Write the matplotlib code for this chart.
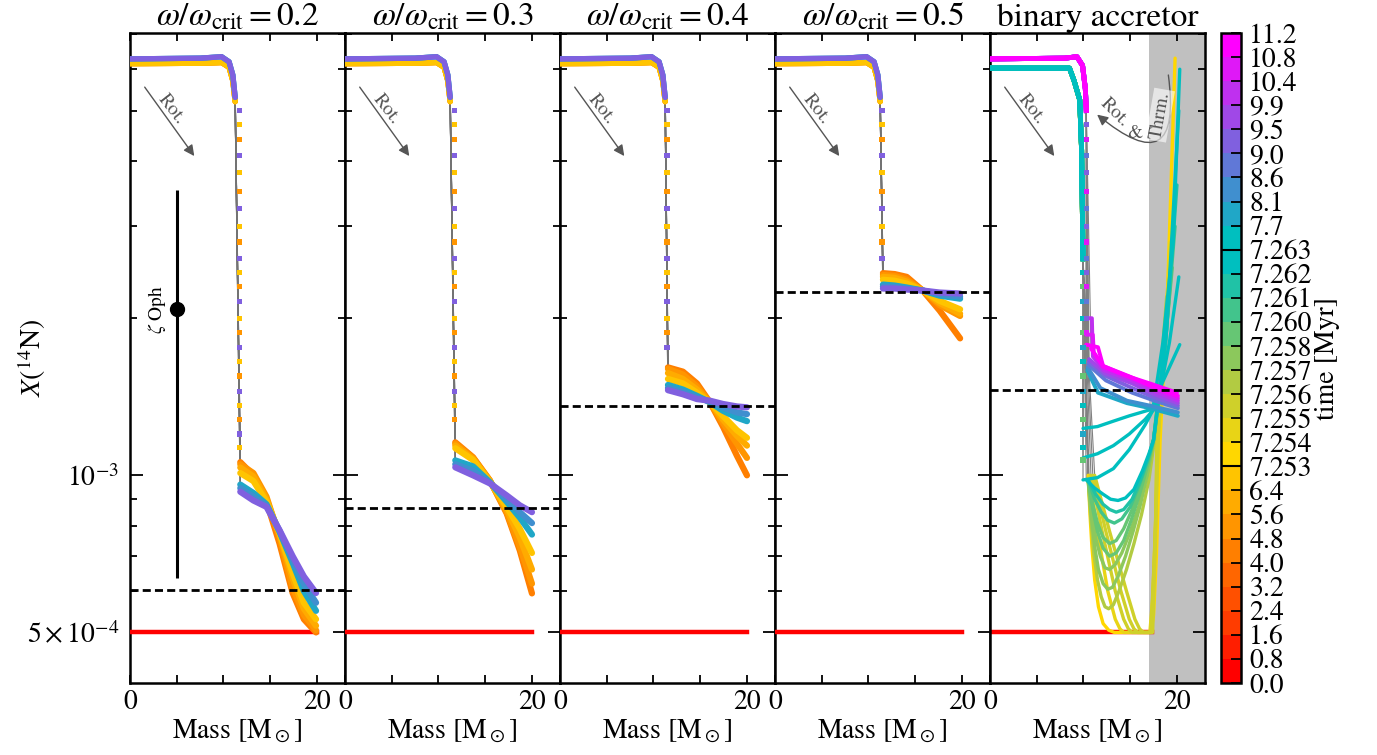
import numpy as np
import matplotlib.pyplot as plt
from matplotlib.colors import ListedColormap, BoundaryNorm
from matplotlib.cm import ScalarMappable
from matplotlib.ticker import NullFormatter

plt.rcParams['font.family'] = 'STIXGeneral'
plt.rcParams['mathtext.fontset'] = 'stix'
plt.rcParams['font.size'] = 20

# ---- colour bar: time bins [Myr]
t_bounds = [0.0, 0.8, 1.6, 2.4, 3.2, 4.0, 4.8, 5.6, 6.4, 7.253, 7.254, 7.255, 7.256, 7.257,
            7.258, 7.260, 7.261, 7.262, 7.263, 7.7, 8.1, 8.6, 9.0, 9.5, 9.9, 10.4, 10.8, 11.2]
t_labels = ['0.0', '0.8', '1.6', '2.4', '3.2', '4.0', '4.8', '5.6', '6.4', '7.253', '7.254',
            '7.255', '7.256', '7.257', '7.258', '7.260', '7.261', '7.262', '7.263', '7.7',
            '8.1', '8.6', '9.0', '9.5', '9.9', '10.4', '10.8', '11.2']
bin_colors = ['#ff0000', '#ff1e00', '#ff3c00', '#ff5000', '#ff6600', '#ff7f00', '#ff9500',
              '#ffab00', '#ffc400',
              '#ffd700', '#e8d416', '#cfd02a', '#b2cb42', '#8cc85c', '#66c674', '#42c48c',
              '#20c2a6', '#00bfbf',
              '#00bfbf', '#20a7c7', '#408fcf', '#6078d7', '#8060df', '#a048e7', '#bf30ef',
              '#df18f7', '#ff00ff']

# ---- single rotating stars
omega_vals = ['0.2', '0.3', '0.4', '0.5']
prof_times = [4.0, 4.8, 5.6, 6.4, 7.7, 8.3, 9.0]
plat_m = [0.0, 7.5, 9.8, 10.6, 11.0, 11.25]
plat_X_early = [6.15e-3, 6.16e-3, 6.18e-3, 6.05e-3, 5.7e-3, 5.2e-3]
plat_X_late = [6.28e-3, 6.3e-3, 6.34e-3, 6.2e-3, 5.85e-3, 5.3e-3]

env_m = [
    [11.8, 13.2, 14.6, 16.0, 17.4, 18.6, 19.9],
    [11.8, 13.7, 15.5, 17.3, 18.7, 20.0],
    [11.55, 13.15, 14.65, 16.04, 17.43, 18.93, 20.0],
    [11.55, 12.8, 14.1, 15.8, 17.6, 19.8],
]
env_X = [
    [[1.06e-3, 1.00e-3, 8.9e-4, 7.4e-4, 5.95e-4, 5.3e-4, 5.0e-4],
     [1.05e-3, 1.01e-3, 9.1e-4, 7.6e-4, 6.1e-4, 5.4e-4, 5.05e-4],
     [1.035e-3, 9.95e-4, 9.0e-4, 7.7e-4, 6.35e-4, 5.55e-4, 5.15e-4],
     [1.01e-3, 9.75e-4, 8.9e-4, 7.75e-4, 6.5e-4, 5.7e-4, 5.3e-4],
     [9.6e-4, 9.25e-4, 8.8e-4, 7.8e-4, 6.8e-4, 6.0e-4, 5.5e-4],
     [9.45e-4, 9.1e-4, 8.75e-4, 7.82e-4, 6.9e-4, 6.2e-4, 5.7e-4],
     [9.3e-4, 8.95e-4, 8.7e-4, 7.85e-4, 7.0e-4, 6.4e-4, 5.95e-4]],
    [[1.157e-3, 1.083e-3, 9.78e-4, 8.45e-4, 7.18e-4, 5.94e-4],
     [1.15e-3, 1.08e-3, 9.77e-4, 8.5e-4, 7.3e-4, 6.2e-4],
     [1.14e-3, 1.075e-3, 9.75e-4, 8.6e-4, 7.6e-4, 6.6e-4],
     [1.127e-3, 1.07e-3, 9.72e-4, 8.7e-4, 7.9e-4, 7.1e-4],
     [1.068e-3, 1.04e-3, 9.7e-4, 8.9e-4, 8.3e-4, 7.7e-4],
     [1.05e-3, 1.02e-3, 9.68e-4, 9.0e-4, 8.5e-4, 8.1e-4],
     [1.036e-3, 1.0e-3, 9.65e-4, 9.15e-4, 8.76e-4, 8.5e-4]],
    [[1.61e-3, 1.58e-3, 1.50e-3, 1.38e-3, 1.24e-3, 1.09e-3, 1.0e-3],
     [1.60e-3, 1.56e-3, 1.48e-3, 1.38e-3, 1.26e-3, 1.15e-3, 1.08e-3],
     [1.57e-3, 1.53e-3, 1.46e-3, 1.38e-3, 1.28e-3, 1.19e-3, 1.14e-3],
     [1.53e-3, 1.50e-3, 1.44e-3, 1.38e-3, 1.30e-3, 1.22e-3, 1.18e-3],
     [1.49e-3, 1.46e-3, 1.42e-3, 1.38e-3, 1.33e-3, 1.29e-3, 1.27e-3],
     [1.47e-3, 1.445e-3, 1.41e-3, 1.385e-3, 1.35e-3, 1.32e-3, 1.31e-3],
     [1.456e-3, 1.43e-3, 1.40e-3, 1.39e-3, 1.37e-3, 1.355e-3, 1.35e-3]],
    [[2.44e-3, 2.43e-3, 2.40e-3, 2.26e-3, 2.07e-3, 1.83e-3],
     [2.42e-3, 2.41e-3, 2.37e-3, 2.26e-3, 2.12e-3, 2.02e-3],
     [2.40e-3, 2.39e-3, 2.35e-3, 2.26e-3, 2.14e-3, 2.04e-3],
     [2.37e-3, 2.36e-3, 2.33e-3, 2.26e-3, 2.16e-3, 2.08e-3],
     [2.32e-3, 2.31e-3, 2.29e-3, 2.26e-3, 2.21e-3, 2.18e-3],
     [2.30e-3, 2.295e-3, 2.28e-3, 2.26e-3, 2.225e-3, 2.2e-3],
     [2.28e-3, 2.28e-3, 2.27e-3, 2.26e-3, 2.24e-3, 2.23e-3]],
]
drop_dots = [5.0e-3, 4.7e-3, 4.4e-3, 4.1e-3, 3.8e-3, 3.5e-3, 3.25e-3, 3.0e-3, 2.8e-3,
             2.6e-3, 2.45e-3, 2.3e-3, 2.15e-3, 2.0e-3, 1.88e-3, 1.76e-3, 1.65e-3, 1.55e-3,
             1.45e-3, 1.36e-3, 1.28e-3, 1.2e-3, 1.13e-3, 1.07e-3]

X_init = 5.0e-4
X_obs = [6.02e-4, 8.64e-4, 1.36e-3, 2.25e-3, 1.456e-3]   # dashed lines

# zeta Oph
zoph_m, zoph_X, zoph_lo, zoph_hi = 5.0, 2.08e-3, 6.37e-4, 3.52e-3

# ---- binary accretor
acc_m0 = 17.0
mt_plat_m = [0.0, 8.5, 9.0, 9.6, 9.8, 9.95]
mt_plat_X = [6.03e-3, 6.03e-3, 5.7e-3, 5.24e-3, 4.2e-3, 2.6e-3]
post_plat_m = [0.0, 8.0, 9.3, 9.9, 10.2, 10.3]
post_plat_X = [6.28e-3, 6.3e-3, 6.34e-3, 6.1e-3, 5.5e-3, 5.0e-3]

mt_times = [7.2535, 7.2545, 7.2552, 7.2557, 7.2559, 7.2565, 7.2572, 7.2578, 7.2585, 7.259,
            7.2605, 7.2615, 7.2622, 7.2625, 7.2627, 7.2629]
mt_m = [
    [10.5, 10.7, 10.9, 11.2, 11.6, 12.1, 12.7, 13.3, 17.2, 17.5, 17.8, 18.2, 19.0, 19.8],
    [10.6, 11.5, 12.6, 13.4, 13.9, 14.3, 17.1, 17.4, 17.7, 18.0, 18.8, 19.3],
    [10.8, 12.0, 13.4, 14.3, 14.8, 15.2, 17.2, 17.6, 18.0, 18.6],
    [11.0, 12.4, 14.0, 14.9, 15.4, 15.8, 17.3, 17.7, 17.9, 18.5],
    [11.2, 12.8, 14.6, 15.5, 16.0, 16.4, 17.4, 17.7, 17.85, 18.4],
    [10.5, 10.8, 11.1, 11.5, 11.9, 12.3, 12.7, 13.2, 13.8, 14.6, 15.4, 16.2, 17.0, 17.6, 18.3,
     18.9],
    [10.5, 10.85, 11.2, 11.6, 12.1, 12.6, 13.1, 13.7, 14.5, 15.3, 16.1, 16.9, 17.5, 18.2, 19.0],
    [10.5, 10.9, 11.3, 11.8, 12.3, 12.8, 13.4, 14.1, 15.0, 15.9, 16.8, 17.5, 18.3, 19.2],
    [10.5, 11.0, 11.5, 12.1, 12.8, 13.5, 14.3, 15.1, 16.0, 16.9, 17.5, 18.3, 19.3],
    [10.5, 11.0, 11.5, 12.1, 12.8, 13.5, 14.3, 15.2, 16.1, 16.9, 17.5, 18.4, 19.5],
    [10.5, 11.2, 11.9, 12.6, 13.3, 14.1, 15.0, 16.0, 16.9, 17.5, 18.6, 19.8],
    [10.5, 11.3, 12.1, 12.8, 13.5, 14.3, 15.2, 16.1, 17.0, 17.5, 18.8, 20.0],
    [10.3, 11.2, 12.1, 12.9, 13.7, 14.5, 15.4, 16.3, 17.0, 17.5, 18.9, 20.2],
    [9.95, 11.5, 13.2, 14.9, 16.6, 17.4, 18.5, 19.6, 20.3],
    [9.95, 11.5, 13.2, 14.9, 16.6, 17.4, 18.4, 20.3],
    [9.95, 11.5, 13.2, 14.9, 17.4, 18.2, 19.2, 20.2],
]
mt_X = [
    [1.0e-3, 8.4e-4, 7.3e-4, 6.3e-4, 5.6e-4, 5.2e-4, 5.05e-4, 5.0e-4, 5.0e-4, 5.4e-4, 7.0e-4,
     1.17e-3, 2.26e-3, 6.3e-3],
    [1.0e-3, 7.8e-4, 6.0e-4, 5.3e-4, 5.08e-4, 5.0e-4, 5.0e-4, 5.8e-4, 8.0e-4, 1.17e-3, 2.0e-3,
     2.8e-3],
    [1.0e-3, 7.8e-4, 6.0e-4, 5.3e-4, 5.08e-4, 5.0e-4, 5.0e-4, 7.0e-4, 1.17e-3, 1.8e-3],
    [1.0e-3, 7.8e-4, 6.0e-4, 5.3e-4, 5.08e-4, 5.0e-4, 5.0e-4, 8.0e-4, 1.17e-3, 1.6e-3],
    [1.0e-3, 7.8e-4, 6.0e-4, 5.3e-4, 5.08e-4, 5.0e-4, 5.0e-4, 7.5e-4, 1.17e-3, 1.5e-3],
    [9.8e-4, 8.2e-4, 7.1e-4, 6.3e-4, 5.85e-4, 5.6e-4, 5.55e-4, 5.65e-4, 6.0e-4, 6.6e-4, 7.4e-4,
     8.4e-4, 9.8e-4, 1.17e-3, 1.6e-3, 2.2e-3],
    [9.8e-4, 8.3e-4, 7.3e-4, 6.6e-4, 6.2e-4, 6.05e-4, 6.1e-4, 6.4e-4, 7.0e-4, 7.8e-4, 8.8e-4,
     1.02e-3, 1.17e-3, 1.55e-3, 2.2e-3],
    [9.8e-4, 8.5e-4, 7.6e-4, 7.0e-4, 6.65e-4, 6.6e-4, 6.75e-4, 7.1e-4, 7.8e-4, 8.7e-4, 1.0e-3,
     1.17e-3, 1.55e-3, 2.3e-3],
    [9.8e-4, 8.6e-4, 7.8e-4, 7.25e-4, 7.0e-4, 7.1e-4, 7.5e-4, 8.2e-4, 9.2e-4, 1.05e-3, 1.17e-3,
     1.55e-3, 2.4e-3],
    [9.8e-4, 8.8e-4, 8.1e-4, 7.6e-4, 7.4e-4, 7.5e-4, 7.9e-4, 8.6e-4, 9.6e-4, 1.07e-3, 1.17e-3,
     1.55e-3, 2.5e-3],
    [9.8e-4, 9.0e-4, 8.5e-4, 8.2e-4, 8.1e-4, 8.25e-4, 8.7e-4, 9.6e-4, 1.07e-3, 1.17e-3, 1.65e-3,
     3.0e-3],
    [9.8e-4, 9.2e-4, 8.8e-4, 8.6e-4, 8.5e-4, 8.6e-4, 9.0e-4, 9.8e-4, 1.09e-3, 1.17e-3, 1.8e-3,
     3.6e-3],
    [9.8e-4, 9.45e-4, 9.2e-4, 9.0e-4, 8.95e-4, 9.05e-4, 9.4e-4, 1.02e-3, 1.1e-3, 1.17e-3, 1.9e-3,
     5.0e-3],
    [9.8e-4, 9.9e-4, 1.03e-3, 1.12e-3, 1.25e-3, 1.33e-3, 1.8e-3, 2.8e-3, 6.0e-3],
    [1.08e-3, 1.1e-3, 1.14e-3, 1.2e-3, 1.28e-3, 1.33e-3, 1.5e-3, 1.78e-3],
    [1.23e-3, 1.24e-3, 1.27e-3, 1.3e-3, 1.34e-3, 1.45e-3, 1.8e-3, 2.4e-3],
]

post_times = [7.7, 8.1, 8.6, 9.0, 9.5, 9.9, 10.4, 10.8, 11.2]
post_m = [
    [10.4, 11.55, 14.65, 17.1, 20.1],
    [10.45, 11.8, 14.65, 17.1, 20.1],
    [10.5, 12.4, 15.2, 17.6, 20.1],
    [10.55, 12.4, 15.2, 17.6, 20.1],
    [10.6, 12.3, 15.2, 17.6, 20.1],
    [10.3, 10.9, 11.0, 12.2, 15.2, 17.6, 20.1],
    [10.3, 11.0, 11.1, 12.1, 15.0, 17.6, 20.1],
    [10.8, 12.1, 14.8, 17.4, 20.1],
    [10.3, 11.55, 12.1, 14.65, 17.1, 20.0],
]
post_X = [
    [1.59e-3, 1.44e-3, 1.375e-3, 1.345e-3, 1.30e-3],
    [1.61e-3, 1.47e-3, 1.39e-3, 1.36e-3, 1.32e-3],
    [1.63e-3, 1.52e-3, 1.44e-3, 1.39e-3, 1.345e-3],
    [1.65e-3, 1.55e-3, 1.47e-3, 1.41e-3, 1.36e-3],
    [1.67e-3, 1.57e-3, 1.50e-3, 1.43e-3, 1.375e-3],
    [2.0e-3, 2.0e-3, 1.69e-3, 1.59e-3, 1.52e-3, 1.45e-3, 1.39e-3],
    [1.86e-3, 1.86e-3, 1.72e-3, 1.61e-3, 1.54e-3, 1.47e-3, 1.405e-3],
    [1.75e-3, 1.62e-3, 1.55e-3, 1.48e-3, 1.42e-3],
    [1.78e-3, 1.76e-3, 1.62e-3, 1.55e-3, 1.50e-3, 1.44e-3],
]

cmap = ListedColormap(bin_colors)
norm = BoundaryNorm(t_bounds, cmap.N)
red = cmap(norm(0.0))
arrow_gray = '#555555'

W, H = 1377, 755
fig = plt.figure(figsize=(W / 100, H / 100), dpi=100)
axes = [fig.add_axes([(130 + 215 * i) / W, 72 / H, 215 / W, 650 / H]) for i in range(5)]

for i, ax in enumerate(axes):
    ax.set_yscale('log')
    ax.set_xlim(0, 23)
    ax.set_ylim(4.0e-4, 7.04e-3)
    ax.set_xticks([0, 5, 10, 15, 20])
    ax.set_xticklabels(['0', '', '', '', '20'])
    ax.set_yticks([5e-4, 1e-3])
    ax.set_yticklabels([r'$5\times10^{-4}$', r'$10^{-3}$'])
    ax.set_yticks([6e-4, 7e-4, 8e-4, 9e-4, 2e-3, 3e-3, 4e-3, 5e-3, 6e-3, 7e-3], minor=True)
    ax.yaxis.set_minor_formatter(NullFormatter())
    ax.tick_params(which='both', direction='in', top=True, right=True, width=1.3)
    ax.tick_params(axis='x', which='both', length=6, pad=5)
    ax.tick_params(axis='y', which='major', length=9, pad=8)
    ax.tick_params(axis='y', which='minor', length=5)
    if i > 0:
        ax.tick_params(labelleft=False)
    for s in ax.spines.values():
        s.set_linewidth(1.8)
    ax.set_xlabel(r'Mass [M$_\odot$]', labelpad=2)
    ax.axhline(X_obs[i], color='k', lw=2, ls=(0, (2.9, 1.5)), zorder=6)
    # Rot. arrow
    ax.annotate('', xy=(7.05, 4.05e-3), xytext=(1.4, 5.6e-3),
                arrowprops=dict(arrowstyle='-|>', color=arrow_gray, lw=1, mutation_scale=16))
    ax.text(4.4, 5.03e-3, 'Rot.', color=arrow_gray, fontsize=14, rotation=-52,
            ha='center', va='center', rotation_mode='anchor')

axes[0].set_ylabel(r'$X(^{14}\mathrm{N})$')
axes[0].yaxis.set_label_coords(-0.38, 0.5)

# single-star panels
for k in range(4):
    ax = axes[k]
    ax.set_title(r'$\omega/\omega_\mathrm{crit} = %s$' % omega_vals[k], pad=4)
    ax.plot([0, 20], [X_init, X_init], color=red, lw=3.2, zorder=3)
    for j, t in enumerate(prof_times):
        c = cmap(norm(t))
        pX = plat_X_late if t > 7 else plat_X_early
        ax.plot(plat_m + env_m[k], pX + env_X[k][j], color='0.45', lw=1, zorder=2)
        ax.plot(plat_m, pX, color=c, lw=3.8, zorder=3, solid_capstyle='round')
        ax.plot(env_m[k], env_X[k][j], color=c, lw=4.5, zorder=3, solid_capstyle='round')
    top = max(col[0] for col in env_X[k])
    dots = [x for x in drop_dots if x > top * 1.05]
    dot_cols = [cmap(norm([9.0, 6.4, 4.8][n % 3])) for n in range(len(dots))]
    ax.scatter([env_m[k][0] - 0.1] * len(dots), dots, c=dot_cols, s=14, marker='s',
               lw=0, zorder=4)

# zeta Oph
ax = axes[0]
ax.errorbar([zoph_m], [zoph_X], yerr=[[zoph_X - zoph_lo], [zoph_hi - zoph_X]], fmt='o',
            color='k', ms=10, elinewidth=2.2, capsize=0, zorder=5)
ax.text(2.9, zoph_X, r'$\zeta$ Oph', rotation=90, fontsize=14, ha='center', va='center')

# binary accretor panel
ax = axes[4]
ax.set_title('binary accretor', pad=4)
ax.axvspan(acc_m0, 23, color='#c0c0c0', lw=0, zorder=0)
ax.plot([0, 17.3], [X_init, X_init], color=red, lw=3.2, zorder=2)
for t, m, X in zip(mt_times, mt_m, mt_X):
    c = cmap(norm(t))
    ax.plot(mt_plat_m + m, mt_plat_X + X, color='0.5', lw=0.8, zorder=2)
    ax.plot(mt_plat_m, mt_plat_X, color=c, lw=3.5, zorder=3)
    ax.plot(m, X, color=c, lw=2.4, zorder=3, solid_capstyle='round')
for t, m, X in zip(post_times, post_m, post_X):
    c = cmap(norm(t))
    ax.plot(post_plat_m + m, post_plat_X + X, color='0.5', lw=0.8, zorder=2)
    ax.plot(post_plat_m, post_plat_X, color=c, lw=3.5, zorder=3)
    ax.plot(m, X, color=c, lw=2.8, zorder=3, solid_capstyle='round')
dots = [x for x in drop_dots if 9.8e-4 < x < 2.6e-3]
ax.scatter([9.95] * len(dots), dots, c=[cmap(norm([7.2625, 7.258, 7.7][n % 3]))
                                         for n in range(len(dots))],
           s=14, marker='s', lw=0, zorder=4)
dots = [x for x in drop_dots if 1.8e-3 < x < 5.0e-3]
ax.scatter([10.3] * len(dots), dots, c=[cmap(norm([9.0, 10.4, 8.6][n % 3]))
                                        for n in range(len(dots))],
           s=14, marker='s', lw=0, zorder=4)

# Rot. & Thrm. arrow
ax.annotate('', xy=(11.23, 4.95e-3), xytext=(19.04, 5.92e-3),
            arrowprops=dict(arrowstyle='-|>', color=arrow_gray, lw=1, mutation_scale=16,
                            connectionstyle='arc3,rad=-1.3'), zorder=6)
ax.text(13.3, 4.95e-3, 'Rot.', color=arrow_gray, fontsize=14, rotation=-45,
        ha='center', va='center', rotation_mode='anchor', zorder=7)
ax.text(15.5, 4.52e-3, '&', color=arrow_gray, fontsize=14, ha='center', va='center', zorder=7)
ax.text(18.2, 4.9e-3, 'Thrm.', color=arrow_gray, fontsize=14, rotation=80,
        ha='center', va='center', rotation_mode='anchor', zorder=7,
        bbox=dict(boxstyle='square,pad=0.1', fc='white', ec='none', alpha=0.6))

# colour bar
cax = fig.add_axes([1221 / W, 72 / H, 20 / W, 650 / H])
sm = ScalarMappable(norm=norm, cmap=cmap)
cb = fig.colorbar(sm, cax=cax, ticks=t_bounds, spacing='uniform')
cb.set_ticklabels(t_labels)
cb.outline.set_linewidth(1.8)
cax.tick_params(direction='in', length=7, width=1.3, pad=6, labelsize=20)
cax.axhline(7.253, color='k', lw=1.5)
cax.axhline(7.263, color='k', lw=1.5)
cb.set_label('time [Myr]', labelpad=2)

fig.savefig('out.png', dpi=100)
